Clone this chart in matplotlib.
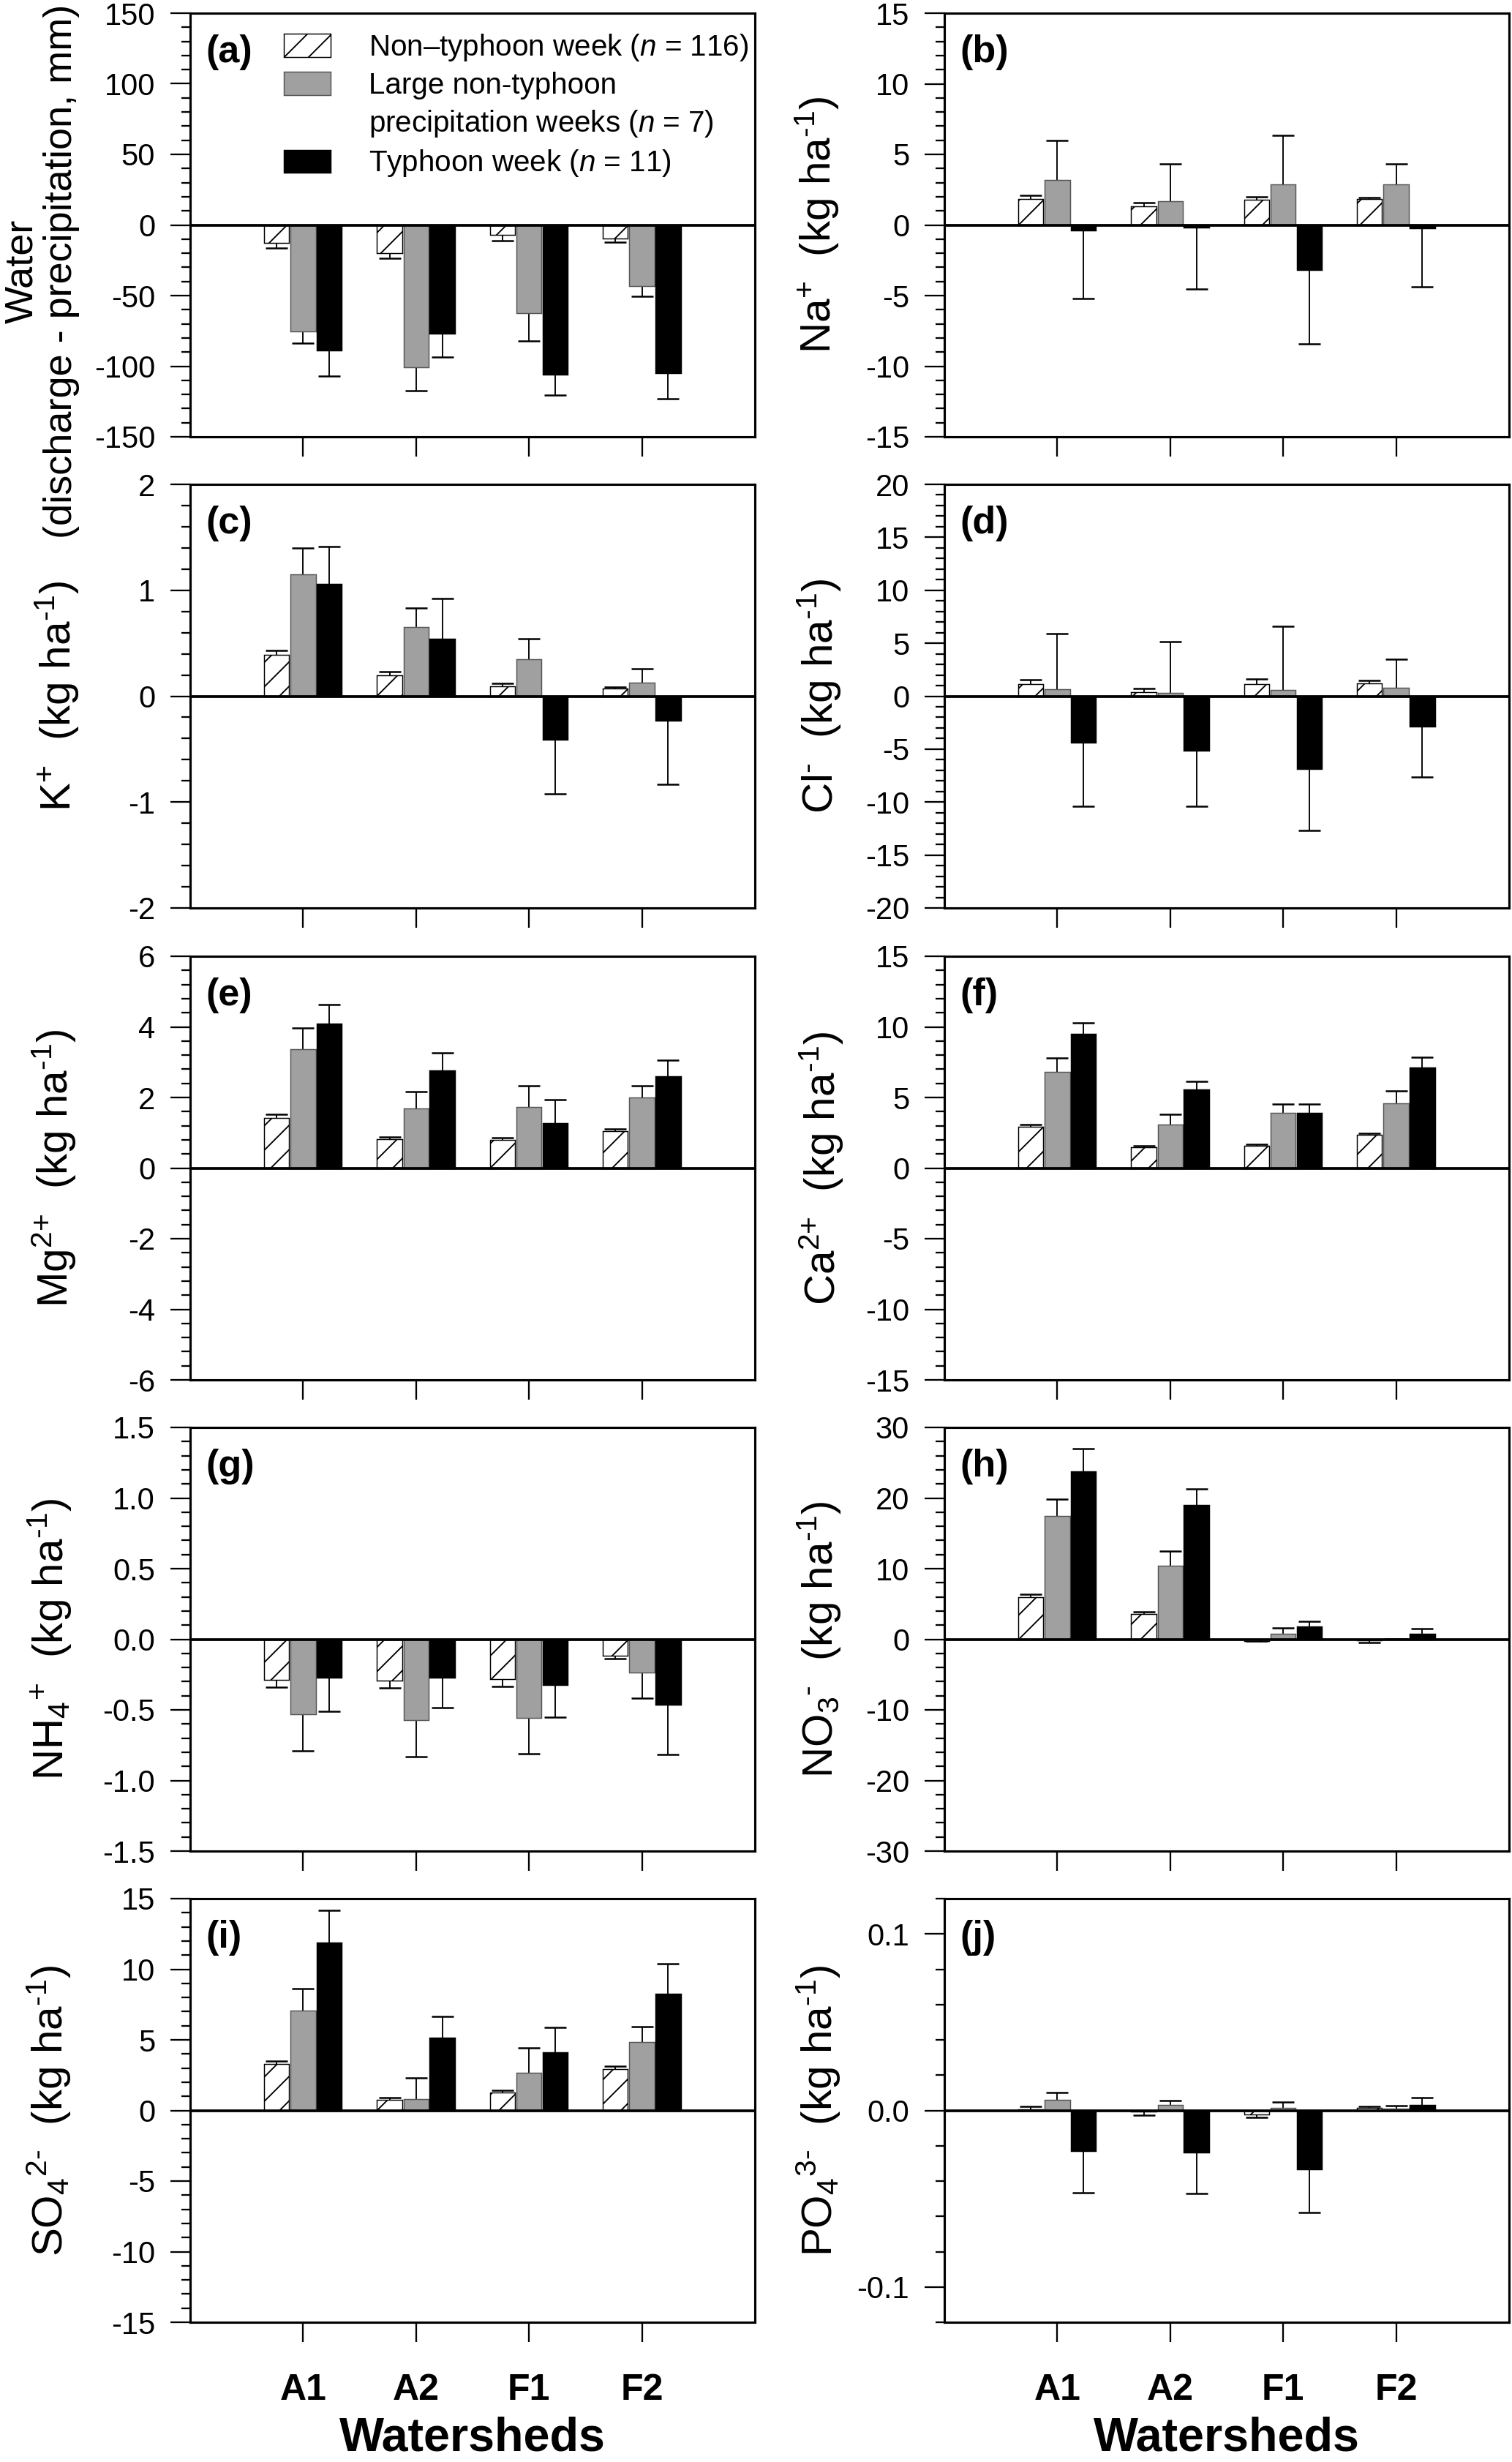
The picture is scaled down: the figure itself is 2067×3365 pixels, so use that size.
import numpy as np
import matplotlib
matplotlib.use('Agg')
import matplotlib.pyplot as plt
from matplotlib.patches import Patch
from matplotlib.ticker import MultipleLocator

plt.rcParams['font.family'] = ['Liberation Sans', 'DejaVu Sans']
plt.rcParams['mathtext.fontset'] = 'custom'
plt.rcParams['mathtext.rm'] = 'Liberation Sans'
plt.rcParams['mathtext.it'] = 'Liberation Sans:italic'
plt.rcParams['mathtext.bf'] = 'Liberation Sans:bold'
plt.rcParams['mathtext.default'] = 'regular'
plt.rcParams['axes.unicode_minus'] = False
plt.rcParams['hatch.linewidth'] = 0.45

# ---------------- data ----------------
watersheds = ['A1', 'A2', 'F1', 'F2']
legend_labels = ['Non\u2013typhoon week ($\\mathit{n}$ = 116)',
                 'Large non-typhoon',
                 'precipitation weeks ($\\mathit{n}$ = 7)',
                 'Typhoon week ($\\mathit{n}$ = 11)']

# (a) water (discharge - precipitation, mm)
water_non = [-12.7, -19.8, -7.0, -9.6]
water_non_se = [3.5, 3.7, 4.0, 2.7]
water_large = [-75.5, -100.7, -62.2, -43.4]
water_large_se = [8.4, 16.8, 20.1, 7.1]
water_typh = [-88.8, -76.7, -105.8, -104.8]
water_typh_se = [18.0, 16.8, 14.7, 18.4]

# (b) Na+
na_non = [1.84, 1.33, 1.80, 1.84]
na_non_se = [0.25, 0.25, 0.20, 0.12]
na_large = [3.17, 1.70, 2.86, 2.86]
na_large_se = [2.83, 2.64, 3.50, 1.48]
na_typh = [-0.39, -0.18, -3.17, -0.25]
na_typh_se = [4.83, 4.36, 5.26, 4.13]

# (c) K+
k_non = [0.39, 0.20, 0.09, 0.07]
k_non_se = [0.04, 0.03, 0.03, 0.015]
k_large = [1.15, 0.65, 0.35, 0.13]
k_large_se = [0.25, 0.18, 0.19, 0.13]
k_typh = [1.06, 0.54, -0.41, -0.23]
k_typh_se = [0.35, 0.38, 0.51, 0.60]

# (d) Cl-
cl_non = [1.17, 0.35, 1.17, 1.20]
cl_non_se = [0.41, 0.36, 0.47, 0.27]
cl_large = [0.63, 0.30, 0.57, 0.76]
cl_large_se = [5.29, 4.86, 6.06, 2.73]
cl_typh = [-4.42, -5.16, -6.88, -2.84]
cl_typh_se = [6.01, 5.21, 5.81, 4.80]

# (e) Mg2+
mg_non = [1.43, 0.82, 0.80, 1.04]
mg_non_se = [0.09, 0.07, 0.07, 0.06]
mg_large = [3.36, 1.68, 1.74, 1.99]
mg_large_se = [0.61, 0.48, 0.60, 0.35]
mg_typh = [4.10, 2.77, 1.27, 2.60]
mg_typh_se = [0.53, 0.50, 0.66, 0.46]

# (f) Ca2+
ca_non = [2.91, 1.48, 1.60, 2.34]
ca_non_se = [0.16, 0.08, 0.08, 0.12]
ca_large = [6.82, 3.09, 3.89, 4.59]
ca_large_se = [0.97, 0.74, 0.66, 0.86]
ca_typh = [9.53, 5.59, 3.93, 7.13]
ca_typh_se = [0.76, 0.56, 0.58, 0.70]

# (g) NH4+
nh4_non = [-0.287, -0.291, -0.283, -0.115]
nh4_non_se = [0.051, 0.051, 0.051, 0.020]
nh4_large = [-0.529, -0.570, -0.559, -0.236]
nh4_large_se = [0.262, 0.262, 0.250, 0.180]
nh4_typh = [-0.270, -0.270, -0.324, -0.465]
nh4_typh_se = [0.242, 0.212, 0.229, 0.351]

# (h) NO3-
no3_non = [5.94, 3.57, -0.25, -0.20]
no3_non_se = [0.45, 0.32, 0.05, 0.30]
no3_large = [17.42, 10.37, 0.82, 0.05]
no3_large_se = [2.38, 2.13, 0.74, 0.05]
no3_typh = [23.81, 19.06, 1.80, 0.82]
no3_typh_se = [3.19, 2.24, 0.74, 0.66]

# (i) SO4 2-
so4_non = [3.30, 0.74, 1.25, 2.93]
so4_non_se = [0.21, 0.19, 0.19, 0.18]
so4_large = [7.05, 0.82, 2.66, 4.87]
so4_large_se = [1.57, 1.47, 1.75, 1.06]
so4_typh = [11.91, 5.13, 4.12, 8.24]
so4_typh_se = [2.26, 1.55, 1.76, 2.13]

# (j) PO4 3-
po4_non = [0.0005, -0.0005, -0.0021, 0.0013]
po4_non_se = [0.0016, 0.0023, 0.0019, 0.0008]
po4_large = [0.0060, 0.0032, 0.0013, 0.0009]
po4_large_se = [0.0042, 0.0023, 0.0036, 0.0019]
po4_typh = [-0.0230, -0.0240, -0.0332, 0.0032]
po4_typh_se = [0.0236, 0.0230, 0.0245, 0.0042]

# ---------------- styles ----------------
GRAY = '#a0a0a0'
bar_styles = [
    dict(facecolor='white', edgecolor='black', hatch='///', linewidth=0.35),
    dict(facecolor=GRAY, edgecolor='#555555', linewidth=0.35),
    dict(facecolor='black', edgecolor='black', linewidth=0.35),
]
BAR_W = 0.222
OFFSETS = [-0.235, 0.0, 0.232]

UNIT = ' (kg ha$^{\\text{-}1}$)'
panels = [
    dict(letter='(a)', series=[(water_non, water_non_se), (water_large, water_large_se), (water_typh, water_typh_se)],
         lim=150, major=50, minor=10, ylabel='Water\n(discharge - precipitation, mm)', lx=-0.195, ly=0.39, fs=13),
    dict(letter='(b)', series=[(na_non, na_non_se), (na_large, na_large_se), (na_typh, na_typh_se)],
         lim=15, major=5, minor=1, ylabel='Na$^{\\text{+}}$ ' + UNIT, lx=-0.184, ly=0.5, fs=14),
    dict(letter='(c)', series=[(k_non, k_non_se), (k_large, k_large_se), (k_typh, k_typh_se)],
         lim=2, major=1, minor=0.2, ylabel='K$^{\\text{+}}$ ' + UNIT, lx=-0.194, ly=0.5, fs=14),
    dict(letter='(d)', series=[(cl_non, cl_non_se), (cl_large, cl_large_se), (cl_typh, cl_typh_se)],
         lim=20, major=5, minor=1, ylabel='Cl$^{\\text{-}}$ ' + UNIT, lx=-0.18, ly=0.5, fs=14),
    dict(letter='(e)', series=[(mg_non, mg_non_se), (mg_large, mg_large_se), (mg_typh, mg_typh_se)],
         lim=6, major=2, minor=0.4, ylabel='Mg$^{\\text{2+}}$ ' + UNIT, lx=-0.198, ly=0.5, fs=14),
    dict(letter='(f)', series=[(ca_non, ca_non_se), (ca_large, ca_large_se), (ca_typh, ca_typh_se)],
         lim=15, major=5, minor=1, ylabel='Ca$^{\\text{2+}}$ ' + UNIT, lx=-0.175, ly=0.5, fs=14),
    dict(letter='(g)', series=[(nh4_non, nh4_non_se), (nh4_large, nh4_large_se), (nh4_typh, nh4_typh_se)],
         lim=1.5, major=0.5, minor=0.1, ylabel='NH$_{4}$$^{\\text{+}}$ ' + UNIT, lx=-0.207, ly=0.5, fs=14),
    dict(letter='(h)', series=[(no3_non, no3_non_se), (no3_large, no3_large_se), (no3_typh, no3_typh_se)],
         lim=30, major=10, minor=2, ylabel='NO$_{3}$$^{\\text{-}}$ ' + UNIT, lx=-0.18, ly=0.5, fs=14),
    dict(letter='(i)', series=[(so4_non, so4_non_se), (so4_large, so4_large_se), (so4_typh, so4_typh_se)],
         lim=15, major=5, minor=1, ylabel='SO$_{4}$$^{\\text{2-}}$ ' + UNIT, lx=-0.207, ly=0.5, fs=14),
    dict(letter='(j)', series=[(po4_non, po4_non_se), (po4_large, po4_large_se), (po4_typh, po4_typh_se)],
         lim=0.12, major=0.1, minor=0.02, ylabel='PO$_{4}$$^{\\text{3-}}$ ' + UNIT, lx=-0.18, ly=0.5, fs=14),
]

W_PX, H_PX = 2067, 3365
fig = plt.figure(figsize=(W_PX / 300, H_PX / 300), dpi=300)

col_left_px = [260, 1291]
ax_w_px = 772
ax_h_px = 579
row_top_px = [18, 662, 1307, 1951, 2595]


def one_sided_err(ax, x, v, e):
    x = np.asarray(x, float)
    v = np.asarray(v, float)
    e = np.asarray(e, float)
    pos = v >= 0
    for mask, keep in ((pos, 1), (~pos, 0)):
        if not mask.any():
            continue
        z = np.zeros(mask.sum())
        yerr = [z, e[mask]] if keep == 1 else [e[mask], z]
        _, caps, _ = ax.errorbar(x[mask], v[mask], yerr=yerr, fmt='none',
                                 ecolor='black', elinewidth=0.45, capsize=3.6,
                                 capthick=0.6, zorder=1.5)
        caps[1 - keep].set_visible(False)


xpos = np.arange(1, len(watersheds) + 1)
axes = []
for i, p in enumerate(panels):
    row, col = divmod(i, 2)
    left = col_left_px[col] / W_PX
    bottom = 1 - (row_top_px[row] + ax_h_px) / H_PX
    ax = fig.add_axes([left, bottom, ax_w_px / W_PX, ax_h_px / H_PX])
    axes.append(ax)

    for k, (vals, se) in enumerate(p['series']):
        xs = xpos + OFFSETS[k]
        ax.bar(xs, vals, width=BAR_W, zorder=2, **bar_styles[k])
        one_sided_err(ax, xs, vals, se)

    ax.axhline(0, color='black', linewidth=0.9, zorder=3)
    ax.set_xlim(0, len(watersheds) + 1)
    ax.set_ylim(-p['lim'], p['lim'])
    ax.yaxis.set_major_locator(MultipleLocator(p['major']))
    ax.yaxis.set_minor_locator(MultipleLocator(p['minor']))
    ax.set_xticks(xpos)

    for s in ax.spines.values():
        s.set_linewidth(0.75)
    ax.tick_params(axis='y', which='major', direction='out', length=6.5, width=0.55,
                   labelsize=10, pad=5, right=False)
    ax.tick_params(axis='y', which='minor', direction='out', length=2.9, width=0.55, right=False)
    ax.tick_params(axis='x', which='major', direction='out', length=6.5, width=0.55,
                   pad=10.4, top=False)
    if row == 4:
        ax.set_xticklabels(watersheds, fontsize=12, fontweight='bold')
    else:
        ax.tick_params(axis='x', labelbottom=False)

    ax.set_ylabel(p['ylabel'], fontsize=p['fs'], linespacing=1.12)
    ax.yaxis.set_label_coords(p['lx'], p['ly'])

    ax.text(0.028, 0.95, p['letter'], transform=ax.transAxes, fontsize=12.5,
            fontweight='bold', ha='left', va='top')

# legend in panel (a)
LFS = 9.7
handles = [Patch(**bar_styles[0]), Patch(**bar_styles[1]),
           Patch(facecolor='none', edgecolor='none'), Patch(**bar_styles[2])]
axes[0].legend(handles, legend_labels, loc='upper left', bbox_to_anchor=(0.166, 0.955),
               frameon=False, fontsize=LFS, handlelength=1.58, handleheight=0.82,
               handletextpad=1.29, labelspacing=0.3, borderpad=0, borderaxespad=0)

# x-axis titles
for col in range(2):
    cx = (col_left_px[col] + ax_w_px / 2) / W_PX
    fig.text(cx, 3 / H_PX, 'Watersheds', ha='center', va='bottom',
             fontsize=15.5, fontweight='bold')

fig.savefig('out.png', dpi=300)
